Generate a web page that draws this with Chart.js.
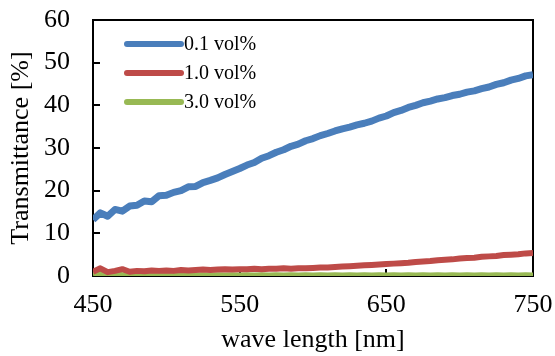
<!DOCTYPE html>
<html>
<head>
<meta charset="utf-8">
<script src="https://cdn.jsdelivr.net/npm/chart.js@4"></script>
<style>
  html, body { margin: 0; padding: 0; background: #fff; }
  #wrap { width: 555px; height: 356px; position: relative; }
</style>
</head>
<body>
<div id="wrap"><canvas id="c" width="555" height="356"></canvas></div>
<script>
const wavelengths = [];
for (let w = 450; w <= 750; w += 5) wavelengths.push(w);

const seriesNames = ["0.1 vol%", "1.0 vol%", "3.0 vol%"];

const blueValues = [13.2, 14.8, 14.0, 15.6, 15.2, 16.4, 16.6, 17.6, 17.4, 18.8,
  18.9, 19.6, 20.0, 20.9, 21.0, 21.9, 22.4, 23.0, 23.8, 24.5,
  25.2, 26.0, 26.6, 27.6, 28.2, 29.0, 29.6, 30.4, 30.9, 31.7,
  32.2, 32.9, 33.4, 34.0, 34.5, 34.9, 35.4, 35.8, 36.3, 37.0,
  37.5, 38.3, 38.8, 39.5, 40.0, 40.6, 41.0, 41.5, 41.8, 42.3,
  42.6, 43.1, 43.4, 43.9, 44.3, 44.9, 45.3, 45.9, 46.3, 46.9, 47.2];

const redValues = [1.0, 1.8, 0.9, 1.2, 1.6, 1.0, 1.2, 1.1, 1.3, 1.2,
  1.3, 1.2, 1.4, 1.3, 1.4, 1.5, 1.4, 1.5, 1.6, 1.5,
  1.6, 1.6, 1.7, 1.6, 1.7, 1.7, 1.8, 1.7, 1.8, 1.8,
  1.9, 2.0, 2.0, 2.1, 2.2, 2.3, 2.4, 2.5, 2.6, 2.7,
  2.8, 2.9, 3.0, 3.1, 3.3, 3.4, 3.5, 3.7, 3.8, 3.9,
  4.1, 4.2, 4.3, 4.5, 4.6, 4.7, 4.9, 5.0, 5.1, 5.3, 5.4];

const greenValues = [0.3, 0.6, 0.2, 0.5, 0.2, 0.2, 0.1, 0.2, 0.1, 0.2,
  0.1, 0.2, 0.1, 0.2, 0.1, 0.2, 0.1, 0.2, 0.1, 0.2,
  0.1, 0.2, 0.1, 0.2, 0.1, 0.2, 0.1, 0.2, 0.1, 0.2,
  0.1, 0.2, 0.1, 0.2, 0.1, 0.2, 0.1, 0.2, 0.1, 0.2,
  0.1, 0.2, 0.1, 0.2, 0.1, 0.2, 0.1, 0.2, 0.1, 0.2,
  0.1, 0.2, 0.1, 0.2, 0.1, 0.2, 0.1, 0.2, 0.1, 0.2, 0.1];

const xTicks = [450, 550, 650, 750];
const yTicks = [0, 10, 20, 30, 40, 50, 60];

const colors = ["#4a7ebb", "#be4b48", "#98b954"];
const FONT = "'Liberation Serif', 'Times New Roman', serif";

function toPoints(vals) {
  return wavelengths.map((w, i) => ({ x: w, y: vals[i] }));
}

const framePlugin = {
  id: 'frame',
  beforeDatasetsDraw(chart) {
    const { ctx, chartArea: a, scales } = chart;
    ctx.save();
    ctx.strokeStyle = '#000';
    ctx.lineWidth = 2;
    ctx.strokeRect(a.left, a.top, a.right - a.left, a.bottom - a.top);
    ctx.beginPath();
    yTicks.forEach(v => {
      if (v === 0 || v === 60) return;
      const y = Math.round(scales.y.getPixelForValue(v));
      ctx.moveTo(a.left, y); ctx.lineTo(a.left + 7, y);
    });
    xTicks.forEach(v => {
      if (v === 450 || v === 750) return;
      const x = Math.round(scales.x.getPixelForValue(v));
      ctx.moveTo(x, a.bottom); ctx.lineTo(x, a.bottom - 7);
    });
    ctx.stroke();
    ctx.restore();
  },
  afterDatasetsDraw(chart) {
    const { ctx, chartArea: a } = chart;
    ctx.save();
    ctx.font = "20px " + FONT;
    ctx.textBaseline = 'middle';
    ctx.fillStyle = '#000';
    chart.data.datasets.forEach((ds, i) => {
      const y = a.top + 24 + i * 29;
      ctx.strokeStyle = ds.borderColor;
      ctx.lineWidth = 6;
      ctx.lineCap = 'round';
      ctx.beginPath();
      ctx.moveTo(a.left + 34, y);
      ctx.lineTo(a.left + 88, y);
      ctx.stroke();
      ctx.fillText(ds.label, a.left + 91, y + 1);
    });
    ctx.restore();
  }
};

new Chart(document.getElementById('c'), {
  type: 'line',
  data: {
    datasets: [
      { label: seriesNames[0], data: toPoints(blueValues), borderColor: colors[0], borderWidth: 7 },
      { label: seriesNames[1], data: toPoints(redValues), borderColor: colors[1], borderWidth: 6 },
      { label: seriesNames[2], data: toPoints(greenValues), borderColor: colors[2], borderWidth: 6 }
    ]
  },
  options: {
    responsive: false,
    animation: false,
    devicePixelRatio: 1,
    layout: { padding: { left: 0, right: 22, top: 20, bottom: 0 } },
    elements: { point: { radius: 0 }, line: { tension: 0, borderJoinStyle: 'round', borderCapStyle: 'butt' } },
    datasets: { line: { clip: 0 } },
    plugins: { legend: { display: false }, tooltip: { enabled: false } },
    scales: {
      x: {
        type: 'linear', min: 450, max: 750,
        afterBuildTicks: s => { s.ticks = xTicks.map(v => ({ value: v })); },
        afterFit: s => { s.height = 80; s.paddingLeft = 0; s.paddingRight = 0; },
        grid: { display: false, drawTicks: false },
        border: { display: false },
        ticks: { color: '#000', padding: 14, maxRotation: 0, font: { family: FONT, size: 26 } },
        title: { display: true, text: 'wave length [nm]', color: '#000', padding: 0, font: { family: FONT, size: 26 } }
      },
      y: {
        min: 0, max: 60,
        afterBuildTicks: s => { s.ticks = yTicks.map(v => ({ value: v })); },
        afterFit: s => { s.width = 93; s.paddingTop = 0; s.paddingBottom = 0; },
        grid: { display: false, drawTicks: false },
        border: { display: false },
        ticks: { color: '#000', padding: 23, font: { family: FONT, size: 26 } },
        title: { display: true, text: 'Transmittance [%]', color: '#000', padding: { top: 6, bottom: 0 }, font: { family: FONT, size: 26 } }
      }
    }
  },
  plugins: [framePlugin]
});
</script>
</body>
</html>
